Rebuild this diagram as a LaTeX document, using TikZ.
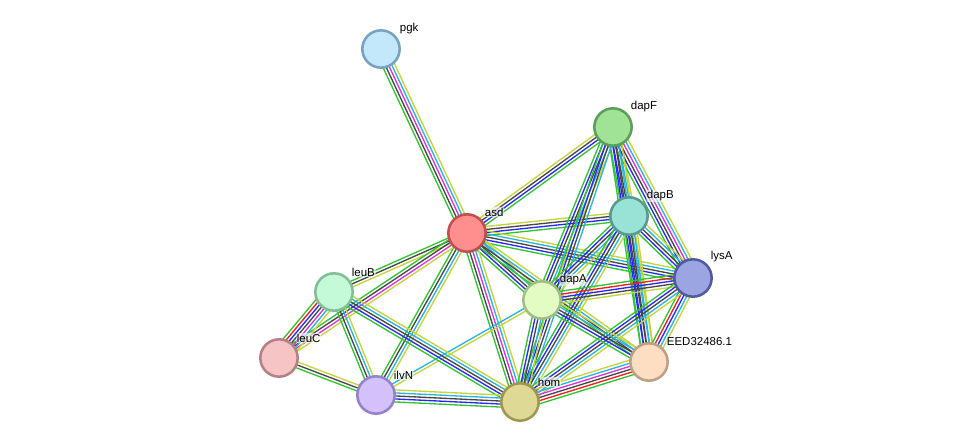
\documentclass[tikz,border=0pt]{standalone}
\usepackage{fontspec}
\setmainfont{Liberation Sans}
\usetikzlibrary{calc}
\pgfdeclarelayer{bg}
\pgfsetlayers{bg,main}
\definecolor{sg}{RGB}{50,195,50}
\definecolor{sr}{RGB}{240,30,30}
\definecolor{sb}{RGB}{40,40,250}
\definecolor{sk}{RGB}{70,70,70}
\definecolor{sm}{RGB}{220,50,220}
\definecolor{sc}{RGB}{40,180,220}
\definecolor{sy}{RGB}{195,212,60}
\tikzset{
  prot/.style={circle,minimum size=28pt,inner sep=0pt,line width=1.9pt},
  lbl/.style={anchor=west,font=\fontsize{8.6}{10}\selectfont,inner sep=0.5pt,fill=white,fill opacity=0.6,text opacity=1,rounded corners=1pt},
  eline/.style={line width=1pt}
}
\newcommand\sedge[4]{%
  \foreach \cc [count=\ii] in {#4}{%
    \pgfmathsetmacro\off{(\ii-(#3+1)/2)*2.25}%
    \draw[\cc,eline] ($(#1.center)!\off pt!90:(#2.center)$) -- ($(#2.center)!\off pt!-90:(#1.center)$);%
  }%
}
\begin{document}
\begin{tikzpicture}[x=0.75pt,y=-0.75pt]
\useasboundingbox (0,0) rectangle (976,448);
\node[prot,fill={rgb,255:red,195;green,232;blue,252},draw={rgb,255:red,120;green,162;blue,192}] (pgk) at (381,49) {};
\node[prot,fill={rgb,255:red,160;green,226;blue,150},draw={rgb,255:red,90;green,160;blue,90}] (dapF) at (613,127) {};
\node[prot,fill={rgb,255:red,152;green,226;blue,214},draw={rgb,255:red,90;green,152;blue,146}] (dapB) at (629,216) {};
\node[prot,fill={rgb,255:red,255;green,142;blue,142},draw={rgb,255:red,190;green,80;blue,80}] (asd) at (467,233) {};
\node[prot,fill={rgb,255:red,155;green,165;blue,225},draw={rgb,255:red,80;green,90;blue,160}] (lysA) at (693,278) {};
\node[prot,fill={rgb,255:red,196;green,250;blue,216},draw={rgb,255:red,130;green,190;blue,150}] (leuB) at (334,292) {};
\node[prot,fill={rgb,255:red,226;green,252;blue,196},draw={rgb,255:red,160;green,190;blue,130}] (dapA) at (542,300) {};
\node[prot,fill={rgb,255:red,246;green,196;blue,196},draw={rgb,255:red,180;green,130;blue,130}] (leuC) at (279,358) {};
\node[prot,fill={rgb,255:red,253;green,222;blue,195},draw={rgb,255:red,190;green,160;blue,130}] (EED) at (649,362) {};
\node[prot,fill={rgb,255:red,212;green,192;blue,250},draw={rgb,255:red,150;green,130;blue,200}] (ilvN) at (376,395) {};
\node[prot,fill={rgb,255:red,222;green,218;blue,150},draw={rgb,255:red,160;green,150;blue,80}] (hom) at (520,402) {};
\node[lbl] (lpgk) at (399,29) {pgk};
\node[lbl] (ldapF) at (630,107) {dapF};
\node[lbl] (ldapB) at (646,196) {dapB};
\node[lbl] (lasd) at (484,212) {asd};
\node[lbl] (llysA) at (710,257) {lysA};
\node[lbl] (lleuB) at (351,272) {leuB};
\node[lbl] (ldapA) at (559,280) {dapA};
\node[lbl] (lleuC) at (296,338) {leuC};
\node[lbl] (lEED) at (666,342) {EED32486.1};
\node[lbl] (lilvN) at (393,375) {ilvN};
\node[lbl] (lhom) at (537,382) {hom};
\begin{pgfonlayer}{bg}
\fill[white] (0,0) rectangle (976,448);
\sedge{pgk}{asd}{5}{sg,sk,sm,sc,sy}
\sedge{asd}{dapF}{4}{sg,sb,sk,sy}
\sedge{asd}{dapB}{4}{sg,sb,sk,sy}
\sedge{asd}{lysA}{5}{sg,sb,sk,sc,sy}
\sedge{asd}{dapA}{5}{sg,sb,sk,sc,sy}
\sedge{asd}{EED}{4}{sg,sk,sc,sy}
\sedge{asd}{hom}{5}{sg,sk,sm,sc,sy}
\sedge{asd}{ilvN}{4}{sg,sk,sc,sy}
\sedge{asd}{leuB}{3}{sg,sk,sy}
\sedge{asd}{leuC}{4}{sg,sk,sm,sy}
\sedge{dapF}{dapB}{5}{sg,sb,sk,sc,sy}
\sedge{dapF}{lysA}{6}{sg,sb,sk,sm,sc,sy}
\sedge{dapF}{dapA}{5}{sg,sb,sk,sc,sy}
\sedge{dapF}{EED}{5}{sg,sb,sk,sc,sy}
\sedge{dapF}{hom}{4}{sg,sb,sk,sc}
\sedge{dapB}{lysA}{5}{sg,sb,sk,sc,sy}
\sedge{dapB}{dapA}{5}{sg,sb,sk,sc,sy}
\sedge{dapB}{EED}{5}{sg,sb,sk,sc,sy}
\sedge{dapB}{hom}{5}{sg,sb,sk,sc,sy}
\sedge{lysA}{dapA}{5}{sg,sr,sb,sk,sy}
\sedge{lysA}{EED}{5}{sg,sr,sb,sc,sy}
\sedge{lysA}{hom}{5}{sg,sb,sk,sc,sy}
\sedge{dapA}{EED}{5}{sg,sb,sk,sc,sy}
\sedge{dapA}{hom}{5}{sg,sb,sk,sc,sy}
\sedge{dapA}{ilvN}{2}{sc,sy}
\sedge{leuB}{leuC}{7}{sg,sr,sb,sk,sm,sc,sy}
\sedge{leuB}{ilvN}{4}{sg,sk,sc,sy}
\sedge{leuB}{hom}{5}{sg,sb,sk,sc,sy}
\sedge{leuC}{ilvN}{3}{sg,sk,sy}
\sedge{ilvN}{hom}{5}{sg,sb,sk,sc,sy}
\sedge{hom}{EED}{6}{sg,sr,sk,sm,sc,sy}
\end{pgfonlayer}
\end{tikzpicture}
\end{document}
